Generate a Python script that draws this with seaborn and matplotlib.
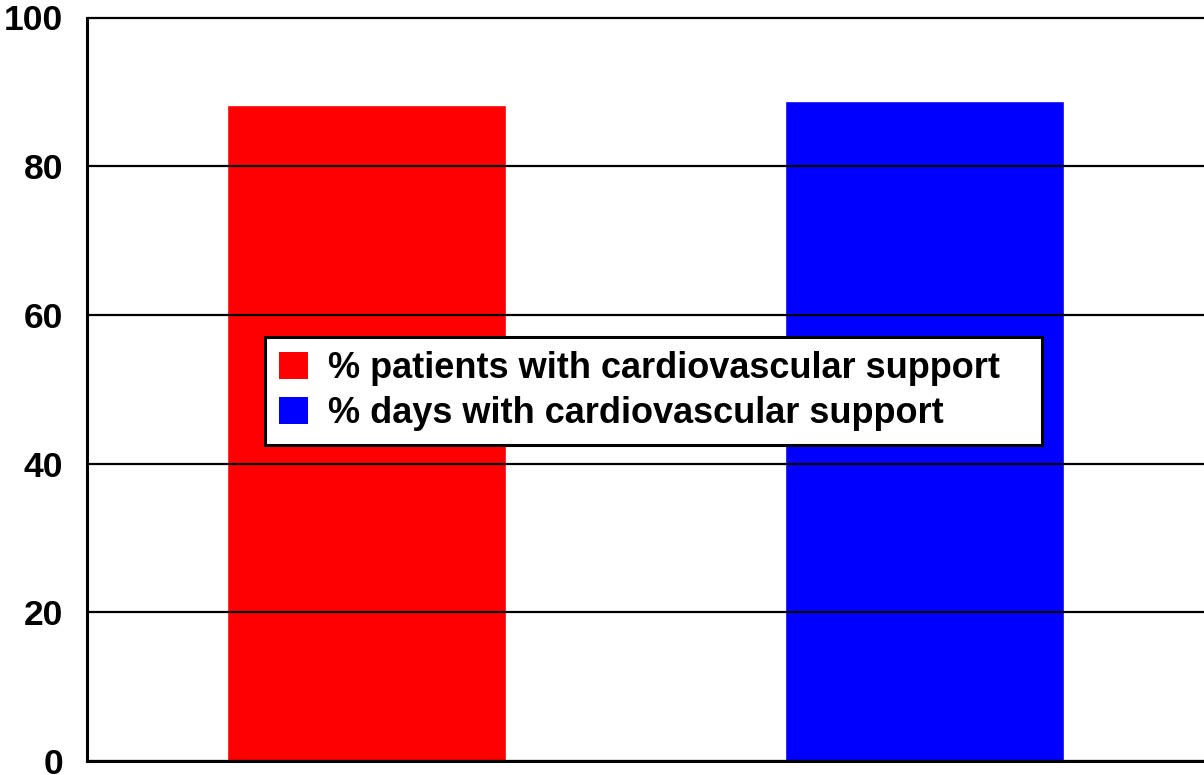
import matplotlib
matplotlib.use("Agg")
import matplotlib.pyplot as plt
import seaborn as sns
import pandas as pd

# Data
series = ["% patients with cardiovascular support", "% days with cardiovascular support"]
values = [88.2, 88.8]
colors = ["#ff0000", "#0000ff"]
yticks = [0, 20, 40, 60, 80, 100]

sns.set_theme(style="white")
plt.rcParams["font.family"] = ["Liberation Sans", "DejaVu Sans"]
plt.rcParams["font.weight"] = "bold"
plt.rcParams["text.color"] = "black"
plt.rcParams["ytick.color"] = "black"
plt.rcParams["ytick.labelcolor"] = "black"

df = pd.DataFrame({"series": series, "value": values})

fig = plt.figure(figsize=(12.04, 7.75), dpi=100)
ax = fig.add_axes([87 / 1204, 14 / 775, 1 - 87 / 1204, (761 - 17.5) / 775])

sns.barplot(data=df, x="series", y="value", hue="series",
            palette=colors, width=0.5, dodge=False, saturation=1,
            legend=False, ax=ax, zorder=1)

ax.set_xlim(-0.5, 1.5)
ax.set_ylim(0, 100)
ax.set_yticks(yticks)
ax.set_xticks([])
ax.set_xlabel("")
ax.set_ylabel("")
ax.tick_params(axis="y", length=0, pad=17, labelsize=25.5, labelcolor="black")
for lab in ax.get_yticklabels():
    lab.set_fontweight("bold")
    lab.set_color("black")

ax.yaxis.grid(True, color="black", linewidth=1.6, zorder=2)
ax.set_axisbelow(False)
for gl in ax.get_ygridlines():
    gl.set_clip_on(False)
for p in ax.patches:
    p.set_zorder(1)

for side in ["top", "right"]:
    ax.spines[side].set_visible(False)
for side in ["left", "bottom"]:
    ax.spines[side].set_color("black")
    ax.spines[side].set_linewidth(2.2)
    ax.spines[side].set_zorder(3)

# Legend box spanning a fixed region of the axes
lx0 = (265 - 87) / 1117
lw = (1042 - 265) / 1117
ly0 = (761 - 446) / 743.5
lh = (446 - 337) / 743.5
handles = [plt.Rectangle((0, 0), 1, 1, facecolor=c, edgecolor="none") for c in colors]
leg = ax.legend(handles, series, loc="upper left", mode="expand",
                bbox_to_anchor=(lx0, ly0, lw, lh),
                borderaxespad=0, frameon=True, fancybox=False, framealpha=1,
                prop={"size": 26, "weight": "bold"}, labelcolor="black",
                handlelength=0.8, handleheight=0.8, handletextpad=0.55,
                labelspacing=0.28, borderpad=0.39)
leg.get_frame().set_edgecolor("black")
leg.get_frame().set_linewidth(2.2)
leg.get_frame().set_facecolor("white")
leg.set_zorder(5)

fig.savefig("out.png", dpi=100, facecolor="white")
